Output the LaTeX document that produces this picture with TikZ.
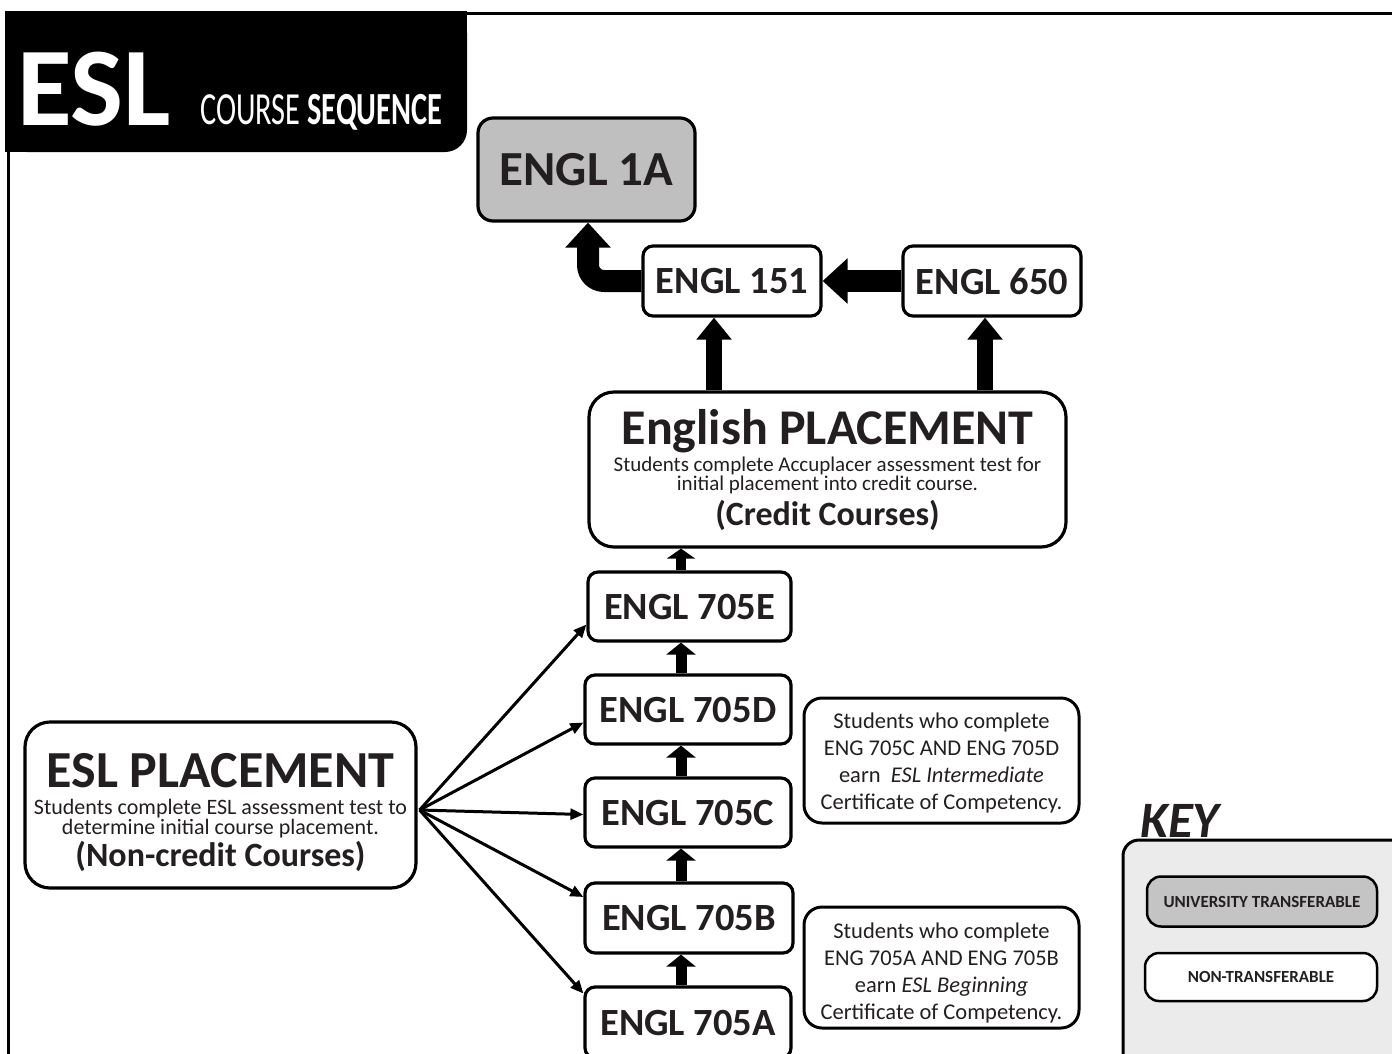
\documentclass[tikz,border=0pt]{standalone}
\usepackage{fontspec}
\setmainfont{Carlito}
\newfontfamily\condfont{Carlito}[FakeStretch=0.66]
\usetikzlibrary{arrows.meta}
\definecolor{ink}{HTML}{231F20}
\definecolor{boxgray}{HTML}{BFBFBF}
\definecolor{keygray}{HTML}{EBEBEB}
\definecolor{keybox}{HTML}{C4C4C4}
\newcommand{\fs}[1]{\fontsize{#1}{#1}\selectfont}
\begin{document}
\begin{tikzpicture}[x=1pt,y=-1pt,line join=round,
  box/.style={draw=black,line width=3.2pt,rounded corners=10pt,fill=white,inner sep=0pt,text=ink,
    font=\fs{38.5}\bfseries,minimum width=206pt,minimum height=69pt},
  bigbox/.style={draw=black,line width=3.2pt,rounded corners=25pt,fill=white,inner sep=0pt},
  certbox/.style={draw=black,line width=3pt,rounded corners=18pt,fill=white,inner sep=0pt,
    minimum width=275pt,minimum height=123pt},
  certtext/.style={align=center,text=ink,inner sep=0pt,font=\fontsize{22.5}{26.7}\selectfont},
  keyitem/.style={draw=black,line width=2.5pt,rounded corners=14pt,inner sep=0pt,text=ink,
    font=\fs{17}\bfseries,minimum height=50pt},
  txt/.style={inner sep=0pt,text=ink,anchor=base},
  bigarrow/.style={line width=22pt,-{Triangle[width=44pt,length=25pt]}},
  pup/.style={line width=16pt,-{Triangle[width=34pt,length=22pt]}},
  chainarrow/.style={line width=11pt,-{Triangle[width=29pt,length=12pt]}},
  fan/.style={line width=3pt,-{Triangle[width=11pt,length=13pt]}}]
\useasboundingbox (0,0) rectangle (1392,1053);
\clip (0,0) rectangle (1392,1053);

% frame
\draw[line width=3pt] (8,1070) -- (8,13) -- (1410,13);
% header
\fill[black,rounded corners=22pt] (5,11) -- (467,11) -- (467,152) -- (5,152) -- cycle;
\fill[black] (5,11) rectangle (440,152);
\fill[black] (5,11) rectangle (467,110);
\node[anchor=base west,text=white,inner sep=0pt,font=\fs{112}\bfseries] (esl) at (17,125) {ESL};
\node[anchor=base west,text=white,inner sep=0pt,font=\condfont\fs{46}] (cs) at (200,124) {COURSE \textbf{SEQUENCE}};

% helper x positions
\coordinate (sp) at (681,0);
\coordinate (c151) at (714,0);
\coordinate (c650) at (985,0);
\coordinate (c1a) at (588,0);

% top courses
\node[box,fill=boxgray,rounded corners=15pt,minimum width=217pt,minimum height=103pt,font=\fs{49}\bfseries] (e1a) at (586.5,169.5) {ENGL 1A};
\node[box,minimum width=178pt,minimum height=70pt] (e151) at (732,281) {ENGL 151};
\node[box,minimum width=178pt,minimum height=70pt] (e650) at (992,281) {ENGL 650};

% English placement
\node[bigbox,minimum width=477pt,minimum height=155pt] (eplace) at (827.5,469.5) {};
\node[txt,font=\fs{50}\bfseries] (eplt) at (827.5,444) {English PLACEMENT};
\node[txt,align=center,font=\fontsize{21}{17}\selectfont] (epls) at (827.5,490) {Students complete Accuplacer assessment test for\\initial placement into credit course.};
\node[txt,font=\fs{34}\bfseries] (eplc) at (827.5,525) {(Credit Courses)};

% ESL placement
\node[bigbox,minimum width=391pt,minimum height=166pt] (eslp) at (220.5,805) {};
\node[txt,font=\fs{52}\bfseries] (eslt) at (220.5,787) {ESL PLACEMENT};
\node[txt,align=center,font=\fontsize{22}{18}\selectfont] (esls) at (220.5,834) {Students complete ESL assessment test to\\determine initial course placement.};
\node[txt,font=\fs{34}\bfseries] (eslc) at (220.5,866) {(Non-credit Courses)};

% 705 courses
\node[box,minimum width=203pt] (e705E) at (689.5,606.5) {ENGL 705E};
\node[box] (e705D) at (688,709.5) {ENGL 705D};
\node[box] (e705C) at (688,812.5) {ENGL 705C};
\node[box,minimum width=208pt,minimum height=70pt] (e705B) at (689,918) {ENGL 705B};
\node[box,minimum height=71pt] (e705A) at (688,1022.5) {ENGL 705A};

% certificate boxes
\node[certbox,minimum height=125pt] (cert1) at (941.5,760.5) {};
\node[certtext] (cert1t) at (941.5,763) {Students who complete\\ENG 705C AND ENG 705D\\earn\ \ \textit{ESL Intermediate}\\Certificate of Competency.};
\node[certbox,minimum height=121pt] (cert2) at (941.5,967.5) {};
\node[certtext] (cert2t) at (941.5,973) {Students who complete\\ENG 705A AND ENG 705B\\earn \textit{ESL Beginning}\\Certificate of Competency.};

% key
\filldraw[fill=keygray,draw=black,line width=3pt,rounded corners=16pt] (1123,1075) -- (1123,840) -- (1410,840) -- (1410,1075) -- cycle;
\node[anchor=base west,inner sep=0pt,text=ink,font=\fs{51}\bfseries\itshape] (key) at (1140,837) {KEY};
\node[keyitem,fill=keybox,minimum width=230pt] (kuni) at (1262,901.5) {UNIVERSITY TRANSFERABLE\hspace{10pt}};
\node[keyitem,fill=white,minimum width=232pt,minimum height=48pt] (knon) at (1261,977) {NON-TRANSFERABLE};

% arrows: credit side
\draw[bigarrow,rounded corners=16pt] (e151.west) -- (e151.west -| c1a) -- (e1a.south -| c1a);
\draw[bigarrow] (e650.west) -- (e151.east);
\draw[pup] (eplace.north -| c151) -- (e151.south -| c151);
\draw[pup] (eplace.north -| c650) -- (e650.south -| c650);
\draw[line width=10pt,-{Triangle[width=28pt,length=10pt]}] (e705E.north -| sp) -- (eplace.south -| sp);

% chain
\draw[chainarrow] (e705D.north -| sp) -- (e705E.south -| sp);
\draw[chainarrow] (e705C.north -| sp) -- (e705D.south -| sp);
\draw[chainarrow] (e705B.north -| sp) -- (e705C.south -| sp);
\draw[chainarrow] (e705A.north -| sp) -- (e705B.south -| sp);

% fan
\coordinate (fo) at ([xshift=2pt,yshift=-5pt]eslp.east);
\draw[fan] (fo) -- ([yshift=-18pt]e705E.west);
\draw[fan] (fo) -- ([yshift=-13pt]e705D.west);
\draw[fan] (fo) -- ([yshift=-2pt]e705C.west);
\draw[fan] (fo) -- ([yshift=21pt]e705B.west);
\draw[fan] (fo) -- ([yshift=29pt]e705A.west);
\end{tikzpicture}
\end{document}
